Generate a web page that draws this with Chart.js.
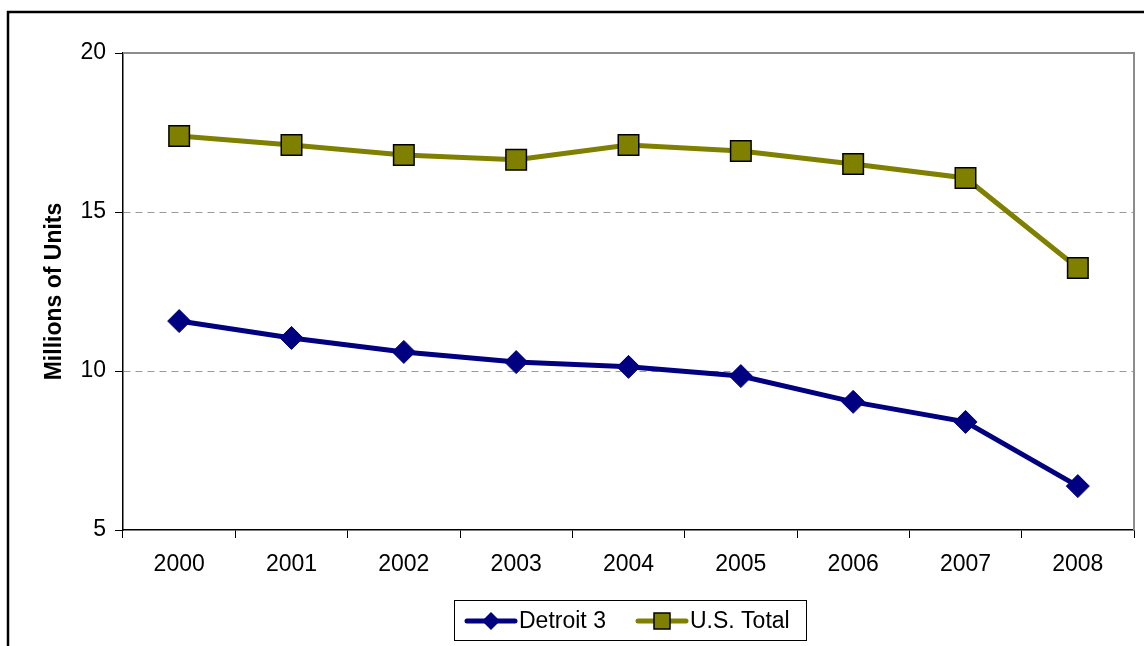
<!DOCTYPE html>
<html>
<head>
<meta charset="utf-8">
<script src="https://cdn.jsdelivr.net/npm/chart.js@4.4.1/dist/chart.umd.min.js"></script>
<style>
    html, body { margin: 0; padding: 0; background: #fff; }
    #wrap { position: relative; width: 1144px; height: 646px; }
</style>
</head>
<body>
<div id="wrap"><canvas id="salesChart" width="1144" height="646"></canvas></div>
<script>
    const years = ['2000', '2001', '2002', '2003', '2004', '2005', '2006', '2007', '2008'];
    const detroit3 = [11.57, 11.04, 10.60, 10.28, 10.13, 9.84, 9.03, 8.40, 6.38];
    const usTotal = [17.39, 17.11, 16.79, 16.64, 17.11, 16.92, 16.51, 16.07, 13.24];
    const yTicks = [5, 10, 15, 20];

    const FONT = '"Liberation Sans", Arial, sans-serif';

    // outer frame, plot border (top/right) and the excel-style legend
    const framePlugin = {
        id: 'frame',
        beforeDraw: function(chart) {
            const ctx = chart.ctx;
            ctx.save();
            ctx.fillStyle = '#fff';
            ctx.fillRect(0, 0, chart.width, chart.height);
            ctx.strokeStyle = '#000';
            ctx.lineWidth = 2.5;
            ctx.strokeRect(8, 12, chart.width + 20, chart.height + 20);
            ctx.restore();
        },
        afterDraw: function(chart) {
            const ctx = chart.ctx;
            const area = chart.chartArea;
            ctx.save();
            ctx.strokeStyle = '#8c8c8c';
            ctx.lineWidth = 2;
            ctx.beginPath();
            ctx.moveTo(area.left, area.top);
            ctx.lineTo(area.right, area.top);
            ctx.lineTo(area.right, area.bottom);
            ctx.stroke();

            // legend box
            const box = { x: 454, y: 600, w: 352, h: 40 };
            ctx.fillStyle = '#fff';
            ctx.fillRect(box.x, box.y, box.w, box.h);
            ctx.strokeStyle = '#000';
            ctx.lineWidth = 1;
            ctx.strokeRect(box.x + 0.5, box.y + 0.5, box.w, box.h);

            const cy = box.y + 21;
            const items = [
                { label: 'Detroit 3', color: '#000080', x0: 467, style: 'diamond' },
                { label: 'U.S. Total', color: '#808000', x0: 638, style: 'square' }
            ];
            items.forEach(function(item) {
                ctx.strokeStyle = item.color;
                ctx.lineWidth = 5;
                ctx.lineCap = 'round';
                ctx.beginPath();
                ctx.moveTo(item.x0, cy);
                ctx.lineTo(item.x0 + 48, cy);
                ctx.stroke();
                const mx = item.x0 + 24;
                ctx.fillStyle = item.color;
                if (item.style === 'diamond') {
                    ctx.beginPath();
                    ctx.moveTo(mx, cy - 9);
                    ctx.lineTo(mx + 9, cy);
                    ctx.lineTo(mx, cy + 9);
                    ctx.lineTo(mx - 9, cy);
                    ctx.closePath();
                    ctx.fill();
                } else {
                    ctx.fillRect(mx - 8, cy - 8, 16, 16);
                    ctx.strokeStyle = '#000';
                    ctx.lineWidth = 1.5;
                    ctx.strokeRect(mx - 8, cy - 8, 16, 16);
                }
                ctx.fillStyle = '#000';
                ctx.font = '23px ' + FONT;
                ctx.textBaseline = 'middle';
                ctx.textAlign = 'left';
                ctx.fillText(item.label, item.x0 + 52, cy + 1);
            });
            ctx.restore();
        }
    };

    new Chart(document.getElementById('salesChart'), {
        type: 'line',
        data: {
            labels: years,
            datasets: [
                {
                    label: 'Detroit 3',
                    data: detroit3,
                    borderColor: '#000080',
                    backgroundColor: '#000080',
                    borderWidth: 5,
                    pointStyle: 'rectRot',
                    pointRadius: 11.5,
                    pointBorderColor: '#000080',
                    pointBorderWidth: 1,
                    tension: 0
                },
                {
                    label: 'U.S. Total',
                    data: usTotal,
                    borderColor: '#808000',
                    backgroundColor: '#808000',
                    borderWidth: 5,
                    pointStyle: 'rect',
                    pointRadius: 14.5,
                    pointBorderColor: '#000',
                    pointBorderWidth: 1.5,
                    tension: 0
                }
            ]
        },
        options: {
            responsive: false,
            animation: false,
            layout: { autoPadding: false, padding: { left: 0, top: 53, right: 10, bottom: 0 } },
            plugins: { legend: { display: false }, tooltip: { enabled: false } },
            scales: {
                x: {
                    offset: true,
                    grid: { offset: true, drawOnChartArea: false, drawTicks: true, tickLength: 8, tickColor: '#000', tickWidth: 1 },
                    border: { color: '#000', width: 1.5 },
                    ticks: { color: '#000', padding: 13, font: { family: FONT, size: 23 } },
                    afterFit: function(scale) {
                        scale.height = 116;
                        scale.paddingLeft = 0;
                        scale.paddingRight = 0;
                    }
                },
                y: {
                    min: 5,
                    max: 20,
                    afterBuildTicks: function(scale) {
                        scale.ticks = yTicks.map(function(v) { return { value: v }; });
                    },
                    grid: {
                        color: function(c) {
                            const v = c.tick && c.tick.value;
                            return (v === 5 || v === 20) ? 'rgba(0,0,0,0)' : '#999';
                        },
                        lineWidth: 1,
                        tickColor: '#000',
                        tickLength: 8,
                        tickBorderDash: [],
                        tickWidth: 1
                    },
                    border: { color: '#000', width: 1.5, dash: [7, 5] },
                    ticks: { color: '#000', padding: 9, font: { family: FONT, size: 23 } },
                    title: {
                        display: true,
                        text: 'Millions of Units',
                        color: '#000',
                        font: { family: FONT, size: 23, weight: 'bold' },
                        padding: { top: 41, bottom: 0 }
                    },
                    afterFit: function(scale) {
                        scale.width = 123;
                        scale.paddingTop = 0;
                        scale.paddingBottom = 0;
                    }
                }
            }
        },
        plugins: [framePlugin]
    });
</script>
</body>
</html>
